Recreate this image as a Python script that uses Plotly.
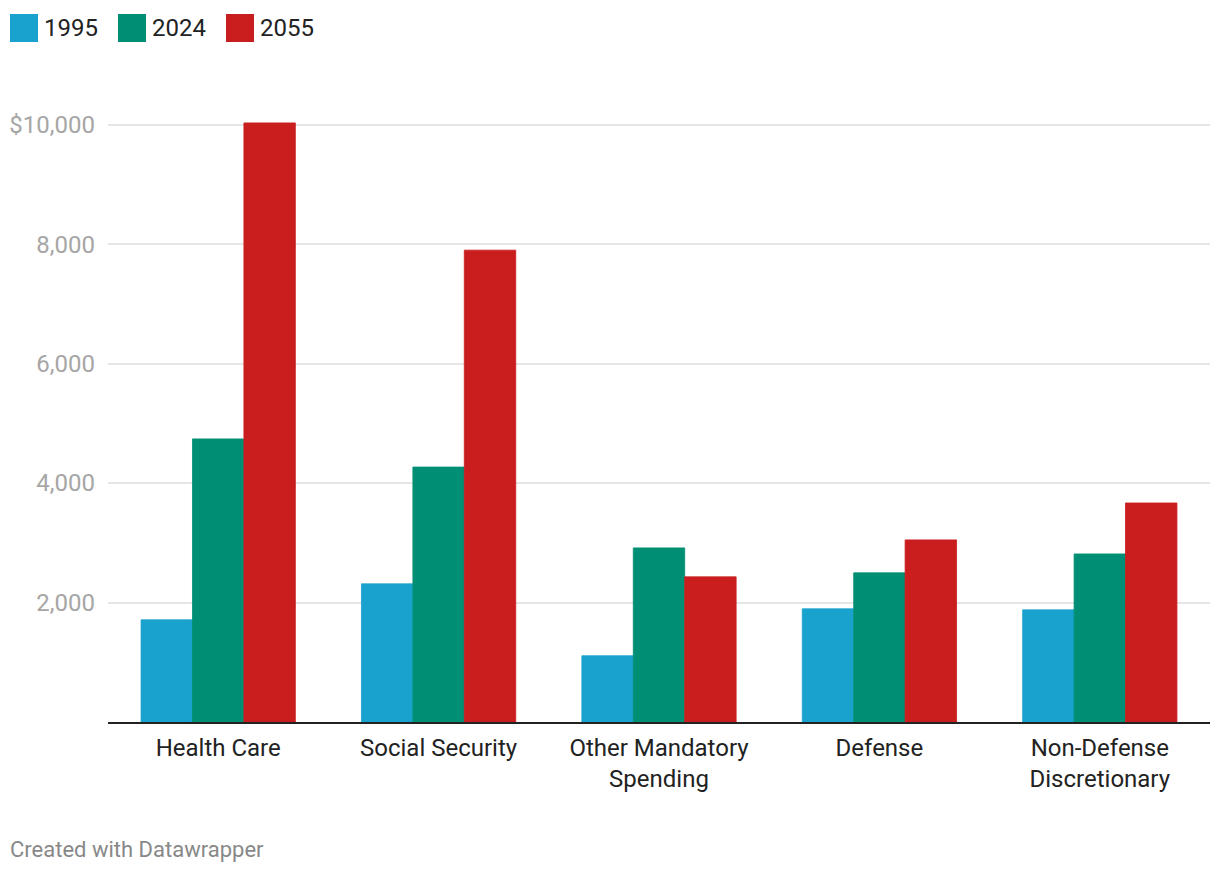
import plotly.graph_objects as go

categories = ["Health Care", "Social Security", "Other Mandatory<br>Spending", "Defense", "Non-Defense<br>Discretionary"]
series_names = ["1995", "2024", "2055"]
values_1995 = [1711, 2313, 1109, 1895, 1878]
values_2024 = [4740, 4268, 2915, 2497, 2814]
values_2055 = [10030, 7900, 2430, 3049, 3667]
colors = ["#1aa2cf", "#008f74", "#c91d1e"]
tick_vals = [2000, 4000, 6000, 8000, 10000]
tick_text = ["2,000", "4,000", "6,000", "8,000", "$10,000"]

OFF = 8  # page body offset
W, H = 1220 - OFF, 872 - OFF
ML, MR, MT, MB = 108 - OFF, 10, 110 - OFF, 150
PW, PH = W - ML - MR, H - MT - MB

def px_x(p):
    return (p - OFF - ML) / PW

def px_y(p):
    return (H - MB - (p - OFF)) / PH

fig = go.Figure()
for name, vals, col in zip(series_names, [values_1995, values_2024, values_2055], colors):
    fig.add_trace(go.Bar(x=categories, y=vals, name=name,
                         marker=dict(color=col, line=dict(width=0.8, color=col)),
                         showlegend=False, hoverinfo="x+y"))

# manual legend
legend_x = [10, 118, 226]
for name, col, lx in zip(series_names, colors, legend_x):
    fig.add_shape(type="rect", xref="paper", yref="paper",
                  x0=px_x(lx), x1=px_x(lx + 28), y0=px_y(42), y1=px_y(14),
                  fillcolor=col, line=dict(width=0))
    fig.add_annotation(xref="paper", yref="paper", x=px_x(lx + 32), y=px_y(28),
                       text=name, showarrow=False, xanchor="left", yanchor="middle",
                       font=dict(family="Roboto", size=24, color="#222222"))

fig.add_annotation(xref="paper", yref="paper", x=px_x(8), y=px_y(849),
                   text="Created with Datawrapper", showarrow=False, xanchor="left", yanchor="middle",
                   font=dict(family="Roboto", size=22, color="#888888"))

fig.update_layout(
    width=W, height=H,
    margin=dict(l=ML, r=MR, t=MT, b=MB, autoexpand=False),
    paper_bgcolor="white", plot_bgcolor="white",
    barmode="group", bargap=0.30, bargroupgap=0,
    font=dict(family="Roboto", size=24, color="#222222"),
    xaxis=dict(showline=True, linecolor="#222222", linewidth=2, ticks="",
               tickfont=dict(size=24, color="#222222"), showgrid=False, fixedrange=True,
               ticklabelstandoff=3),
    yaxis=dict(range=[0, 10246], tickvals=tick_vals, ticktext=tick_text, ticks="",
               showgrid=True, gridcolor="#e6e6e6", gridwidth=2, zeroline=False,
               tickfont=dict(size=24, color="#a6a6a6"), ticklabelstandoff=12, fixedrange=True),
)

fig.write_html("out.html")
